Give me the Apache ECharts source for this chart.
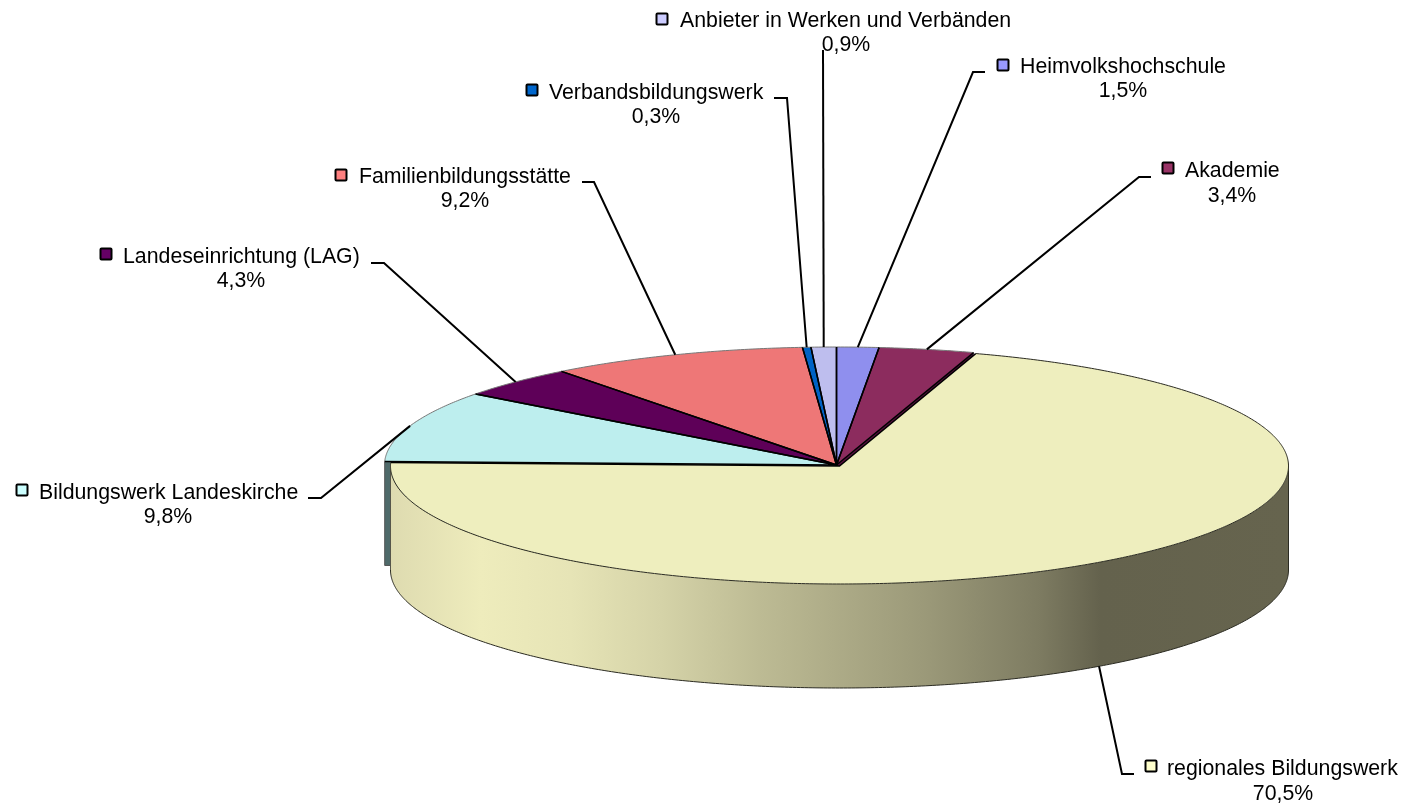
<!DOCTYPE html>
<html>
<head>
<meta charset="utf-8">
<script src="https://cdn.jsdelivr.net/npm/echarts@6/dist/echarts.min.js"></script>
<style>
html, body { margin: 0; padding: 0; background: #fff; }
#main { width: 1404px; height: 807px; }
</style>
</head>
<body>
<div id="main"></div>
<script>
// order: clockwise from 12 o'clock
var categories = ['Heimvolkshochschule', 'Akademie', 'regionales Bildungswerk', 'Bildungswerk Landeskirche',
	'Landeseinrichtung (LAG)', 'Familienbildungsstätte', 'Verbandsbildungswerk', 'Anbieter in Werken und Verbänden'];
var values = [1.5, 3.4, 70.5, 9.8, 4.3, 9.2, 0.3, 0.9];
var valueLabels = ['1,5%', '3,4%', '70,5%', '9,8%', '4,3%', '9,2%', '0,3%', '0,9%'];

var faceColors = ['#8f8fee', '#8c2c5e', '#eeeebe', '#bdeeee', '#5e0058', '#ee7777', '#0062c4', '#bebeee'];
var keyColors = ['#9999ff', '#993366', '#ffffcc', '#ccffff', '#660066', '#ff8080', '#0066cc', '#ccccff'];

// label layout: marker x/y, name left x/y, percent centre x/y, leader points after the slice anchor
var labelLayout = [
	{ key: [1003, 65], name: [1020, 67], pct: [1123, 91], lead: [[973, 72], [985, 72]] },
	{ key: [1168, 168], name: [1185, 171], pct: [1232, 196], lead: [[1139, 177], [1151, 177]] },
	{ key: [1151, 766], name: [1167, 769], pct: [1283, 794], lead: [[1122, 774], [1134, 774]] },
	{ key: [22, 490], name: [39, 493], pct: [168, 517], lead: [[321, 498], [308, 498]] },
	{ key: [106, 254], name: [123, 257], pct: [241, 281], lead: [[384, 263], [371, 263]] },
	{ key: [341, 175], name: [359, 177], pct: [465, 201], lead: [[594, 182], [582, 182]] },
	{ key: [532, 90], name: [549, 93], pct: [656, 117], lead: [[787, 98], [774, 98]] },
	{ key: [662, 19], name: [680, 21], pct: [846, 45], lead: [[823, 50]] }
];

var EXPLODED = 2;
var pie = { cx: 836.5, cy: 465, rx: 452, ry: 118, depth: 104 };
var bigPie = { cx: 839.5, cy: 466, rx: 449, ry: 118, depth: 104 };
var labelFont = '21.3px "Liberation Sans", Arial';

var total = values.reduce(function (a, b) { return a + b; }, 0);
var angles = [0];
values.forEach(function (v, i) {
	angles.push(angles[i] + v / total * 360);
});

function pt(p, deg, dy) {
	var r = deg * Math.PI / 180;
	return [p.cx + p.rx * Math.sin(r), p.cy - p.ry * Math.cos(r) + (dy || 0)];
}

function arc(p, from, to, dy) {
	var pts = [];
	var n = Math.max(2, Math.ceil(Math.abs(to - from) * 2));
	for (var i = 0; i <= n; i++) {
		pts.push(pt(p, from + (to - from) * i / n, dy));
	}
	return pts;
}

var wallFill = new echarts.graphic.LinearGradient(391, 0, 1289, 0, [
	{ offset: 0, color: '#dedbb0' },
	{ offset: 0.1, color: '#eeecbc' },
	{ offset: 0.2, color: '#e6e4b6' },
	{ offset: 0.3, color: '#d5d3a8' },
	{ offset: 0.41, color: '#bdbb94' },
	{ offset: 0.6, color: '#9a9878' },
	{ offset: 0.72, color: '#7e7c62' },
	{ offset: 0.79, color: '#64624d' },
	{ offset: 1, color: '#66644e' }
], true);

function poly(points, fill, z2) {
	return { type: 'polygon', z2: z2, shape: { points: points }, style: { fill: fill, stroke: null } };
}

function line(points, color, width, z2) {
	return { type: 'polyline', z2: z2, shape: { points: points }, style: { fill: null, stroke: color, lineWidth: width } };
}

function renderSlice(params) {
	var i = params.dataIndex;
	var a0 = angles[i];
	var a1 = angles[i + 1];
	var mid = (a0 + a1) / 2;
	var kids = [];
	var p = i === EXPLODED ? bigPie : pie;
	var apex = [p.cx, p.cy];
	var rim = arc(p, a0, a1);
	var anchor = pt(p, mid);

	if (i === EXPLODED) {
		// side wall of the front half
		var top = arc(p, 90, a1 > 270 ? 270 : a1);
		var bottom = arc(p, a1 > 270 ? 270 : a1, 90, p.depth);
		kids.push(poly(top.concat(bottom), wallFill, 30));
		kids.push(line(bottom.concat([top[0]]), '#2b2b22', 1, 31));
		kids.push(line([top[top.length - 1], bottom[0]], '#55554a', 1, 31));
		kids.push(poly([apex].concat(rim), faceColors[i], 40));
		kids.push(line(rim, '#2b2b22', 1, 41));
		kids.push(line([rim[0], apex, rim[rim.length - 1]], '#000', 1.5, 41));
		anchor = pt(p, mid, p.depth);
	} else {
		// cut faces next to the pulled out slice
		if (i === EXPLODED - 1) {
			var e = pt(p, a1);
			kids.push(poly([apex, e, [e[0], e[1] + p.depth], [apex[0], apex[1] + p.depth]], '#5a1040', 10));
		}
		if (i === EXPLODED + 1) {
			var s = pt(p, a0);
			kids.push(poly([apex, s, [s[0], s[1] + p.depth], [apex[0], apex[1] + p.depth]], '#4f6a6a', 10));
			kids.push(line([s, [s[0], s[1] + p.depth], [s[0] + 10, s[1] + p.depth]], '#555', 1, 11));
		}
		kids.push(poly([apex].concat(rim), faceColors[i], 20));
		kids.push(line(rim, '#777', 1, 21));
		kids.push(line([rim[0], apex, rim[rim.length - 1]], '#000', 1.5, 21));
	}

	// leader line and label
	var lay = labelLayout[i];
	kids.push(line([anchor].concat(lay.lead), '#000', 2, i === EXPLODED ? 50 : 25));
	kids.push({
		type: 'rect', z2: 60,
		shape: { x: lay.key[0] - 5.5, y: lay.key[1] - 5.5, width: 11, height: 11, r: 1 },
		style: { fill: keyColors[i], stroke: '#000', lineWidth: 2 }
	});
	kids.push({
		type: 'text', z2: 60,
		style: { x: lay.name[0], y: lay.name[1], text: categories[i], fill: '#000', font: labelFont, align: 'left', verticalAlign: 'middle' }
	});
	kids.push({
		type: 'text', z2: 60,
		style: { x: lay.pct[0], y: lay.pct[1], text: valueLabels[i], fill: '#000', font: labelFont, align: 'center', verticalAlign: 'middle' }
	});
	return { type: 'group', children: kids };
}

var myChart = echarts.init(document.getElementById('main'));
myChart.setOption({
	animation: false,
	backgroundColor: '#fff',
	series: [{
		type: 'custom',
		coordinateSystem: 'none',
		silent: true,
		data: values,
		renderItem: renderSlice
	}]
});
</script>
</body>
</html>
